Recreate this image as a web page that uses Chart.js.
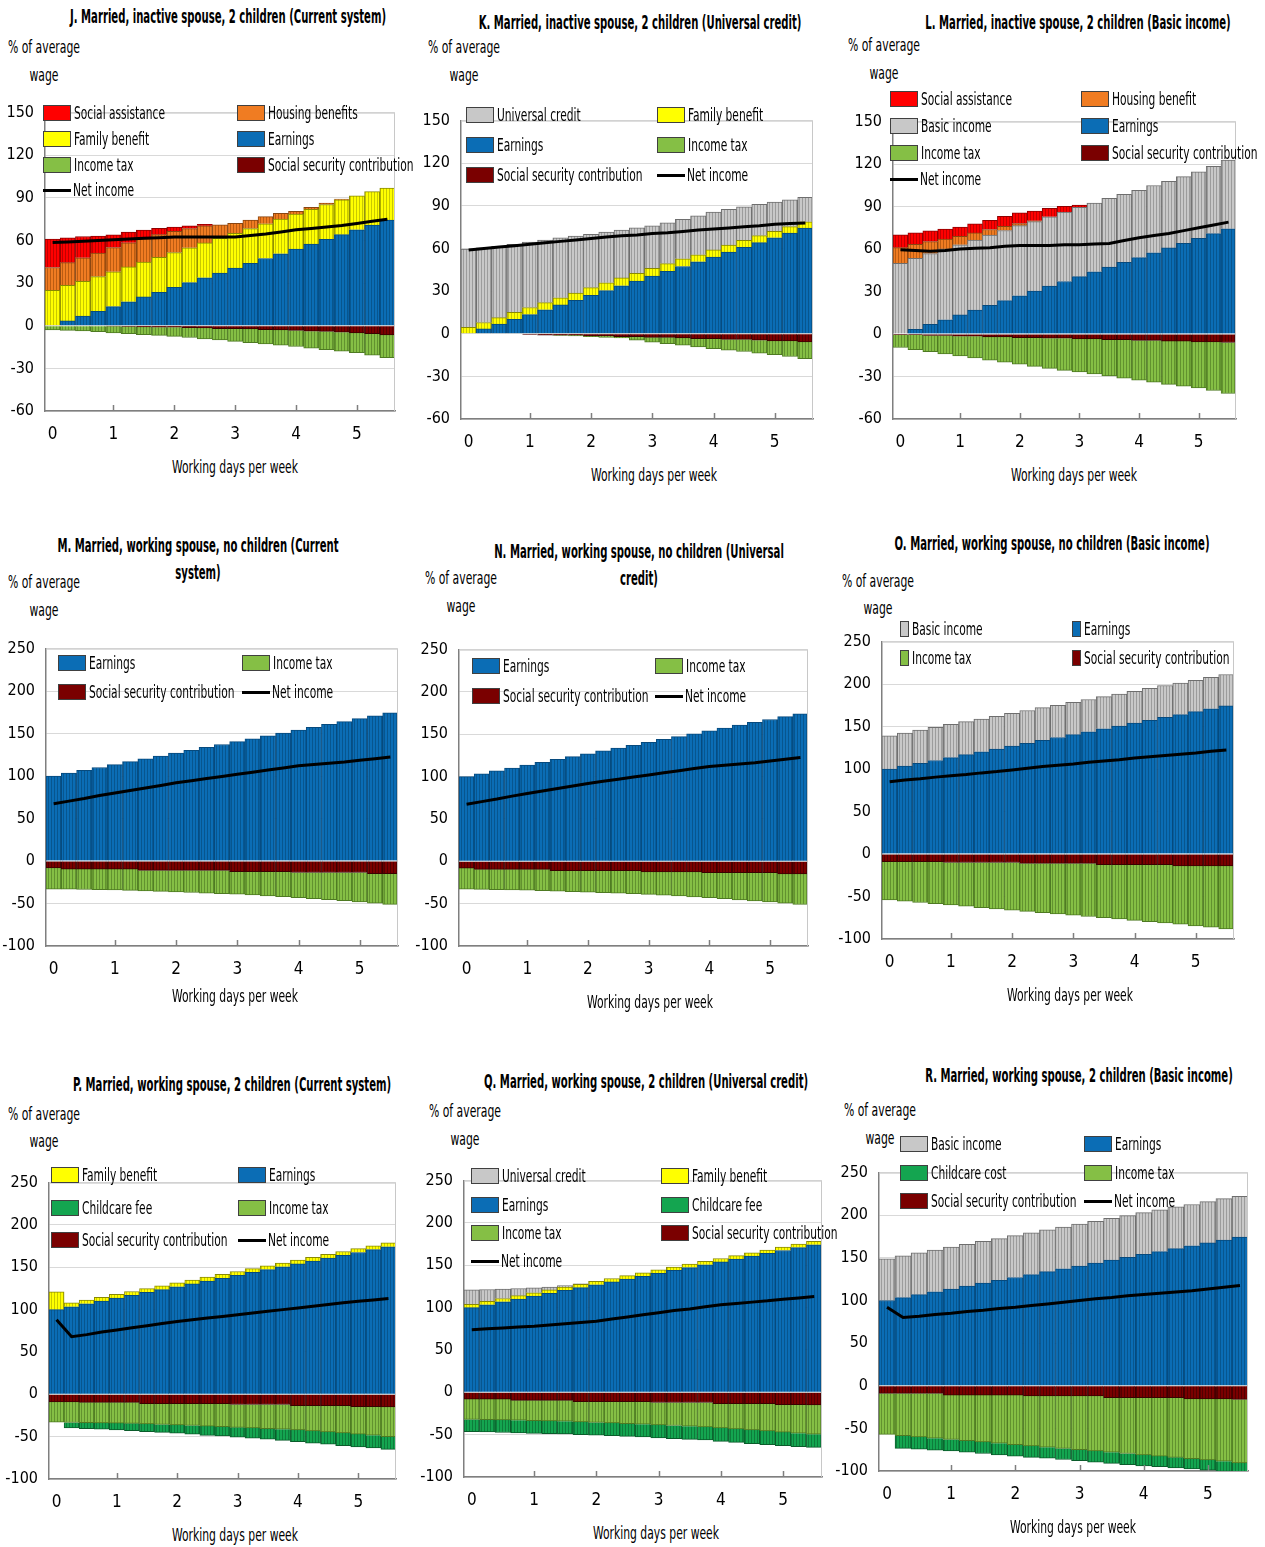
<!DOCTYPE html>
<html>
<head>
<meta charset="utf-8">
<script src="https://cdn.jsdelivr.net/npm/chart.js@4.4.0/dist/chart.umd.min.js"></script>
<style>
  body { margin: 0; background: #fff; }
  #page { position: relative; width: 1265px; height: 1547px; overflow: hidden; background: #fff;
          font-family: "Liberation Sans Narrow", "Arial Narrow", "DejaVu Sans Condensed", sans-serif; color: #000; }
  .t { position: absolute; white-space: nowrap; line-height: 1; }
  .ttl { font-size: 19px; font-weight: bold; }
  .leg { font-size: 18px; }
  .unit { font-size: 18px; }
  .xt { font-size: 18px; }
  canvas { position: absolute; }
  .sw { position: absolute; box-sizing: border-box; border: 1px solid #404040; }
  .ln { position: absolute; height: 3px; background: #000; }
</style>
</head>
<body>
<div id="page"></div>
<script>
// x positions: working days per week
var days = [0,0.25,0.5,0.75,1,1.25,1.5,1.75,2,2.25,2.5,2.75,3,3.25,3.5,3.75,4,4.25,4.5,4.75,5,5.25,5.5];
var xTicks = [0,1,2,3,4,5];
var ticksSmall = [-60,-30,0,30,60,90,120,150];
var ticksLarge = [-100,-50,0,50,100,150,200,250];

// earnings, % of average wage
var earnOne = [0,3.4,6.8,10.1,13.5,16.9,20.3,23.6,27,30.4,33.8,37.1,40.5,43.9,47.3,50.6,54,57.4,60.8,64.1,67.5,70.9,74.3];
var earnTwo = [100,103.4,106.8,110.1,113.5,116.9,120.3,123.6,127,130.4,133.8,137.1,140.5,143.9,147.3,150.6,154,157.4,160.8,164.1,167.5,170.9,174.3];

// J. inactive spouse, 2 children, current system
var jFamily  = [25,25,24.5,24.5,24.5,24.5,24.5,24.5,24.5,24.5,24.5,24.5,24.5,24.5,24.5,24.5,24.5,24.5,24.5,24.5,24,23.5,22.5];
var jHousing = [16,16,16.5,16.5,17,17,16.5,16,15,13.5,12,9.5,7,6,5,4,2,1.5,1,0.5,0,0,0];
var jSocial  = [20,17.5,15,12,9,7.5,6,4.5,3,2,1,0,0,0,0,0,0,0,0,0,0,0,0];
var jSsc     = [0,0,0,0,-0.3,-0.5,-0.8,-1,-1,-1.3,-1.5,-2,-2,-2.3,-2.8,-3,-3.3,-3.8,-4,-4.5,-5,-5.5,-6.5];
var jTax     = [-3,-3.3,-3.7,-4.1,-4.7,-5.1,-5.4,-5.8,-6.5,-7,-7.7,-8,-9,-9.6,-10,-10.7,-11.3,-11.9,-12.8,-13.4,-14,-15.2,-15.9];
var jNet     = [58.5,59,59.5,60,60.5,61,61.5,62,62.5,62.5,62.5,62.5,62.5,63.5,64.5,66,67.5,68.5,69.5,70.5,72,73.5,75];

// K. inactive spouse, 2 children, universal credit
var kFamily    = [4.5,4.5,4.5,5,5,5,5,5,5.5,5.5,5.5,5.5,5.5,5.5,5.5,5,5,5,5,5,4.5,4.5,4.5];
var kUniversal = [55,52.6,50.2,47.9,46,44.1,42.2,40.2,37.5,35.6,33.7,31.9,30,28.6,27.7,27.4,26.6,25.1,23.5,21.9,20.6,18.9,17.2];
var kSsc       = [0,0,0,0,-0.5,-1,-1,-1,-1.5,-1.5,-2,-2,-2.5,-2.5,-3,-3.5,-3.5,-4,-4,-4.5,-5,-5,-5.8];
var kTax       = [0,0,0,0,0,0,-0.2,-0.6,-0.5,-1,-1,-2.5,-3.5,-4.5,-5,-5.8,-7,-7.5,-8.5,-9.1,-9.7,-11,-11.8];
var kNet       = [59,60,61,62,63,64,65,66,67,68,69,69.5,70.5,71,72,73,73.7,74.5,75.3,76,77,77.5,78];

// L. inactive spouse, 2 children, basic income
var lBasic   = [50,50,50,50,49.5,49.5,49.5,49.5,49.5,49,49,49,49,48.5,48.5,48,47.5,47.5,47,47,47,47.5,48.5];
var lHousing = [11,10,8.5,7,6,5,4,3,1.5,0.5,0,0,0,0,0,0,0,0,0,0,0,0,0];
var lSocial  = [9,8,7.5,7,6.5,6.5,6.5,7,7.5,7,6,4,1.5,0,0,0,0,0,0,0,0,0,0];
var lSsc     = [-0.5,-0.5,-1,-1,-1.5,-1.5,-2,-2,-2.5,-2.5,-3,-3,-3.5,-3.5,-4,-4,-4.5,-4.5,-5,-5,-5.5,-5.5,-6];
var lTax     = [-9,-10.5,-11.5,-13,-14,-15.4,-16.4,-17.8,-18.8,-20.3,-21.3,-22.7,-23.2,-24.7,-25.6,-27.1,-28,-29.5,-30.5,-31.9,-32.6,-34.4,-36];
var lNet     = [59.5,59,58.5,59,60,60.5,61,62,62.5,62.5,62.5,63,63,63.5,64,66,68,69.5,71,73,75,77,79];

// M and N. working spouse, no children (current system / universal credit)
var mSsc = [-8,-9.5,-9.5,-9.5,-9.5,-9.5,-11,-11,-11,-11,-11,-11,-12.5,-12.5,-12.5,-12.5,-13.5,-13.5,-13.5,-13.5,-13.5,-15,-15];
var mTax = [-25,-23.7,-24,-24.2,-24.5,-25.1,-24.2,-24.8,-25.5,-26,-26.7,-27.3,-26.5,-27.5,-28.5,-29.5,-29.5,-30.7,-32,-33.2,-34.5,-34.5,-36];
var mNet = [67.5,70.5,73.5,77,80,83,86,89,92,94.5,97,99.5,102,104.5,107,109.5,112,113.5,115,116.5,118.5,120.5,122.5];

// O. working spouse, no children, basic income
var oBasic = [39,39,39,39,39,39,38.5,38.5,38.5,38.5,38.5,38,38,38,38,37.5,37.5,37.5,37.5,37,37,37,37];
var oSsc   = [-9,-9,-9,-9,-10,-10,-10,-10,-10,-11,-11,-11,-11,-11,-12.5,-12.5,-12.5,-12.5,-12.5,-14,-14,-14,-14];
var oTax   = [-45,-46.5,-48,-49.5,-50,-51.5,-53,-54.5,-56,-56.5,-58,-59.5,-61,-62.5,-62.5,-64,-65.5,-67,-68.5,-68.5,-70.5,-72,-74];
var oNet   = [85,87,88.5,90.5,92,93.5,95.5,97,99,101,103,104.5,106,108,109.5,111,113,114.5,116,117.5,119,121,122.5];

// P. working spouse, 2 children, current system
var pFamily = [21,4.5,4.5,4.5,4.5,4.5,4.5,4.5,4.5,4.5,4.5,4.5,4.5,4.5,4.5,4.5,4.5,4.5,4.5,4.5,4.5,4.5,4.5];
var pSsc    = [-9,-9,-9.5,-9.5,-9.5,-9.5,-11,-11,-11,-11,-11,-11,-12,-12,-12,-12,-13.5,-13.5,-13.5,-13.5,-14.5,-14.5,-15];
var pTax    = [-24,-24.3,-24,-24.2,-24.5,-24.8,-24,-24.5,-25,-25.7,-26.5,-27.2,-27,-27.8,-28.5,-29.3,-28.5,-29.7,-31,-32.2,-32.5,-33.7,-35];
var pChild  = [0,-6.5,-7,-7.5,-8,-8.5,-9,-9.5,-10,-10.5,-11,-11,-11.5,-12,-12.5,-13,-14,-14.5,-14.5,-15,-15,-15,-15];
var pNet    = [88,68,70.5,73.5,76,78.5,81,83.5,86,88,90,92,94,96,98,100,102,104,106,108,110,111.5,113];

// Q. working spouse, 2 children, universal credit
var qFamily    = [4,4,4,4,4,4,4,4,4,4,4,4,4,4,4,4,4,4,4,4,4,4,4];
var qUniversal = [17,14,11,8.5,6,3.5,1.7,0.4,0,0,0,0,0,0,0,0,0,0,0,0,0,0,0];
var qSsc       = [-8,-8,-8,-9.5,-9.5,-9.5,-9.5,-11,-11,-11,-11,-11,-12,-12,-12,-12,-13.5,-13.5,-13.5,-13.5,-14.5,-14.5,-15];
var qTax       = [-24,-24.3,-24.5,-23.5,-24,-24.3,-24.7,-24,-24.5,-25.2,-26,-26.7,-26.5,-27.2,-28,-28.8,-28.5,-29.7,-31,-32.2,-32.5,-33.7,-34.5];
var qChild     = [-14.5,-14.5,-15,-15,-15,-15,-15,-15,-15,-15,-15,-15,-15.5,-15.5,-15.5,-15.5,-16,-16,-16,-16,-16,-16,-15.5];
var qNet       = [74,75,76,77,78,79.5,81,82.5,84,86.5,89,91.5,94,96.5,98.5,101,103.5,105,106.5,108,110,111.5,113];

// R. working spouse, 2 children, basic income
var rBasic = [49,49,49,49,49,49,49,49,49,49,49,49,49,49,49,49,49,49,49,48.5,48.5,48.5,48];
var rSsc   = [-9,-9,-9,-9,-11,-11,-11,-11,-11,-12,-12,-12,-12,-12,-14,-14,-14,-14,-14,-15.5,-15.5,-15.5,-16];
var rTax   = [-48,-49.5,-51,-52.5,-52,-53.5,-55,-56.5,-58,-58.5,-60,-61.5,-63,-64.5,-64,-65.5,-67,-68.5,-70,-70,-71.5,-73,-74.5];
var rChild = [0,-15,-14.5,-14,-13.5,-13.5,-13.5,-13.5,-13.5,-13.5,-13,-13,-13,-13,-13,-13,-13,-12.5,-12.5,-12,-12,-12,-12];
var rNet   = [92,80,81.5,83.5,85,87,88.5,90.5,92,94,96,98,100,102,103.5,105.5,107,108.5,110,111.5,113.5,115.5,117.5];

// fill / stripe / edge colours
var COL = {
  earn:  ['#0B6DB5', '#07568f', '#064a7e'],
  fam:   ['#FFFF00', '#c9c900', '#8a8a00'],
  hous:  ['#F07C22', '#bb5c12', '#8a4510'],
  soc:   ['#FF0000', '#c20000', '#900000'],
  grey:  ['#C8C8C8', '#9c9c9c', '#6e6e6e'],
  tax:   ['#85BF45', '#62922f', '#4e7a22'],
  ssc:   ['#7A0000', '#520000', '#3a0000'],
  child: ['#14A550', '#0d7c3b', '#0a5c2b']
};

var SSC = 'Social security contribution';

var panels = [
  { plot: [45,113,395,411], yt: ticksSmall, title: ['J. Married, inactive spouse, 2 children (Current system)'], tx: 228, ty: [16],
    unit: [44,47,75], xt: [235,467], rows: [113,139,165,190], cols: [43,237],
    legend: [[['Social assistance','soc'],['Family benefit','fam'],['Income tax','tax'],['Net income','net']],
             [['Housing benefits','hous'],['Earnings','earn'],[SSC,'ssc']]],
    bars: [['Earnings',earnOne,'earn'],['Family benefit',jFamily,'fam'],['Housing benefits',jHousing,'hous'],['Social assistance',jSocial,'soc'],
           [SSC,jSsc,'ssc'],['Income tax',jTax,'tax']], net: jNet },
  { plot: [461,121,813,419], yt: ticksSmall, title: ['K. Married, inactive spouse, 2 children (Universal credit)'], tx: 640, ty: [22],
    unit: [464,47,75], xt: [654,475], rows: [115,145,175], cols: [466,657],
    legend: [[['Universal credit','grey'],['Earnings','earn'],[SSC,'ssc']],
             [['Family benefit','fam'],['Income tax','tax'],['Net income','net']]],
    bars: [['Earnings',earnOne,'earn'],['Family benefit',kFamily,'fam'],['Universal credit',kUniversal,'grey'],
           [SSC,kSsc,'ssc'],['Income tax',kTax,'tax']], net: kNet },
  { plot: [893,122,1236,419], yt: ticksSmall, title: ['L. Married, inactive spouse, 2 children (Basic income)'], tx: 1078, ty: [22],
    unit: [884,45,73], xt: [1074,475], rows: [99,126,153,179], cols: [890,1081],
    legend: [[['Social assistance','soc'],['Basic income','grey'],['Income tax','tax'],['Net income','net']],
             [['Housing benefit','hous'],['Earnings','earn'],[SSC,'ssc']]],
    bars: [['Earnings',earnOne,'earn'],['Basic income',lBasic,'grey'],['Housing benefit',lHousing,'hous'],['Social assistance',lSocial,'soc'],
           [SSC,lSsc,'ssc'],['Income tax',lTax,'tax']], net: lNet },
  { plot: [46,649,398,946], yt: ticksLarge, title: ['M. Married, working spouse, no children (Current','system)'], tx: 198, ty: [545,572],
    unit: [44,582,610], xt: [235,996], rows: [663,692], cols: [58,242],
    legend: [[['Earnings','earn'],[SSC,'ssc']], [['Income tax','tax'],['Net income','net']]],
    bars: [['Earnings',earnTwo,'earn'],[SSC,mSsc,'ssc'],['Income tax',mTax,'tax']], net: mNet },
  { plot: [459,650,808,946], yt: ticksLarge, title: ['N. Married, working spouse, no children (Universal','credit)'], tx: 639, ty: [551,578],
    unit: [461,578,606], xt: [650,1002], rows: [666,696], cols: [472,655],
    legend: [[['Earnings','earn'],[SSC,'ssc']], [['Income tax','tax'],['Net income','net']]],
    bars: [['Earnings',earnTwo,'earn'],[SSC,mSsc,'ssc'],['Income tax',mTax,'tax']], net: mNet },
  { plot: [882,642,1234,939], yt: ticksLarge, title: ['O. Married, working spouse, no children (Basic income)'], tx: 1052, ty: [543],
    unit: [878,581,608], xt: [1070,995], rows: [629,658], cols: [900,1072], small: true,
    legend: [[['Basic income','grey'],['Income tax','tax']], [['Earnings','earn'],[SSC,'ssc']]],
    bars: [['Earnings',earnTwo,'earn'],['Basic income',oBasic,'grey'],[SSC,oSsc,'ssc'],['Income tax',oTax,'tax']], net: oNet },
  { plot: [49,1183,396,1479], yt: ticksLarge, title: ['P. Married, working spouse, 2 children (Current system)'], tx: 232, ty: [1084],
    unit: [44,1114,1141], xt: [235,1535], rows: [1175,1208,1240], cols: [51,238],
    legend: [[['Family benefit','fam'],['Childcare fee','child'],[SSC,'ssc']],
             [['Earnings','earn'],['Income tax','tax'],['Net income','net']]],
    bars: [['Earnings',earnTwo,'earn'],['Family benefit',pFamily,'fam'],
           [SSC,pSsc,'ssc'],['Income tax',pTax,'tax'],['Childcare fee',pChild,'child']], net: pNet },
  { plot: [464,1181,822,1477], yt: ticksLarge, title: ['Q. Married, working spouse, 2 children (Universal credit)'], tx: 646, ty: [1081],
    unit: [465,1111,1139], xt: [656,1533], rows: [1176,1205,1233,1261], cols: [471,661],
    legend: [[['Universal credit','grey'],['Earnings','earn'],['Income tax','tax'],['Net income','net']],
             [['Family benefit','fam'],['Childcare fee','child'],[SSC,'ssc']]],
    bars: [['Earnings',earnTwo,'earn'],['Family benefit',qFamily,'fam'],['Universal credit',qUniversal,'grey'],
           [SSC,qSsc,'ssc'],['Income tax',qTax,'tax'],['Childcare fee',qChild,'child']], net: qNet },
  { plot: [879,1173,1248,1471], yt: ticksLarge, title: ['R. Married, working spouse, 2 children (Basic income)'], tx: 1079, ty: [1075],
    unit: [880,1110,1138], xt: [1073,1527], rows: [1144,1173,1201], cols: [900,1084],
    legend: [[['Basic income','grey'],['Childcare cost','child'],[SSC,'ssc']],
             [['Earnings','earn'],['Income tax','tax'],['Net income','net']]],
    bars: [['Earnings',earnTwo,'earn'],['Basic income',rBasic,'grey'],
           [SSC,rSsc,'ssc'],['Income tax',rTax,'tax'],['Childcare cost',rChild,'child']], net: rNet }
];

var page = document.getElementById('page');
var FONT = '"Liberation Sans Narrow", "Arial Narrow", "DejaVu Sans Condensed", sans-serif';

function measure(str, cls) {
  var el = document.createElement('span');
  el.className = 't ' + cls;
  el.textContent = str;
  page.appendChild(el);
  var w = el.getBoundingClientRect().width;
  page.removeChild(el);
  return w;
}
// squeeze text to the narrow face of the original
var SCALE = {
  ttl: 316 / measure(panels[0].title[0], 'ttl'),
  leg: 91 / measure('Social assistance', 'leg'),
  unit: 72 / measure('% of average', 'unit'),
  xt: 126 / measure('Working days per week', 'xt')
};

function addText(str, x, y, cls, center) {
  var el = document.createElement('div');
  el.className = 't ' + cls;
  el.textContent = str;
  el.style.left = x + 'px';
  el.style.top = y + 'px';
  if (center) {
    el.style.transformOrigin = '50% 50%';
    el.style.transform = 'translate(-50%,-50%) scaleX(' + SCALE[cls] + ')';
  } else {
    el.style.transformOrigin = '0 50%';
    el.style.transform = 'translateY(-50%) scaleX(' + SCALE[cls] + ')';
  }
  page.appendChild(el);
}

// thin vertical stripes like the hairline bar outlines of the original
var patterns = {};
function stripe(key) {
  if (patterns[key]) return patterns[key];
  var pc = document.createElement('canvas');
  pc.width = 3; pc.height = 4;
  var c = pc.getContext('2d');
  c.fillStyle = COL[key][0];
  c.fillRect(0, 0, 3, 4);
  c.fillStyle = COL[key][1];
  c.fillRect(2, 0, 1, 4);
  patterns[key] = c.createPattern(pc, 'repeat');
  return patterns[key];
}

var framePlugin = {
  id: 'frame',
  afterDatasetsDraw: function (chart) {
    var ctx = chart.ctx, a = chart.chartArea, x = chart.scales.x;
    ctx.save();
    ctx.strokeStyle = '#c8c8c8';
    ctx.lineWidth = 1;
    ctx.beginPath();
    ctx.moveTo(a.left, a.top + 0.5);
    ctx.lineTo(a.right - 0.5, a.top + 0.5);
    ctx.lineTo(a.right - 0.5, a.bottom);
    ctx.stroke();
    ctx.strokeStyle = '#7f7f7f';
    ctx.lineWidth = 1.5;
    xTicks.forEach(function (d) {
      if (d === 0) return;
      var px = Math.round(x.getPixelForValue(d)) + 0.5;
      ctx.beginPath();
      ctx.moveTo(px, a.bottom);
      ctx.lineTo(px, a.bottom - 6);
      ctx.stroke();
    });
    ctx.restore();
  }
};

function drawPanel(p) {
  var l = p.plot[0], t = p.plot[1], r = p.plot[2], b = p.plot[3];
  var W = r - l + 57, H = b - t + 52;
  var cv = document.createElement('canvas');
  cv.width = W; cv.height = H;
  cv.style.left = (l - 45) + 'px';
  cv.style.top = (t - 12) + 'px';
  cv.style.width = W + 'px';
  cv.style.height = H + 'px';
  page.appendChild(cv);

  var datasets = p.bars.map(function (s) {
    return {
      type: 'bar', label: s[0],
      data: days.map(function (d, i) { return { x: d, y: s[1][i] === 0 ? null : s[1][i] }; }),
      backgroundColor: stripe(s[2]), borderColor: COL[s[2]][2], borderWidth: 1,
      barPercentage: 1, categoryPercentage: 1, stack: 's', order: 2
    };
  });
  datasets.push({
    type: 'line', label: 'Net income',
    data: days.map(function (d, i) { return { x: d, y: p.net[i] }; }),
    borderColor: '#000', borderWidth: 3, pointRadius: 0, tension: 0, stack: 'net', order: 1
  });

  var chart = new Chart(cv, {
    data: { datasets: datasets },
    options: {
      responsive: false, maintainAspectRatio: false, animation: false,
      layout: { autoPadding: false, padding: { top: 12, right: 12, left: 0, bottom: 0 } },
      plugins: { legend: { display: false }, tooltip: { enabled: false } },
      scales: {
        x: {
          type: 'linear', min: -0.125, max: 5.625, offset: false,
          afterBuildTicks: function (s) { s.ticks = xTicks.map(function (v) { return { value: v }; }); },
          afterFit: function (s) { s.height = 40; },
          grid: { display: false, drawTicks: false, offset: false },
          border: { color: '#7f7f7f', width: 1.5 },
          ticks: { color: '#000', padding: 13, font: { family: FONT, size: 17 } }
        },
        y: {
          stacked: true, min: p.yt[0], max: p.yt[p.yt.length - 1],
          afterBuildTicks: function (s) { s.ticks = p.yt.map(function (v) { return { value: v }; }); },
          afterFit: function (s) { s.width = 45; },
          grid: { color: '#d9d9d9', drawTicks: false },
          border: { color: '#7f7f7f', width: 1.5 },
          ticks: { color: '#000', padding: 11, font: { family: FONT, size: 16 } }
        }
      }
    },
    plugins: [framePlugin]
  });

  // Chart.js keeps room for half a tick label above the plot:
  // grow the canvas and shift it so the plot lands on the wanted rectangle
  var curH = H, a = chart.chartArea;
  for (var k = 0; k < 4; k++) {
    var extra = (b - t) - (a.bottom - a.top);
    if (Math.abs(extra) < 0.5) break;
    curH = Math.round(curH + extra);
    chart.resize(W, curH);
    a = chart.chartArea;
  }
  cv.style.top = (t - a.top) + 'px';
  cv.style.left = (l - a.left) + 'px';

  // texts
  p.title.forEach(function (s, i) { addText(s, p.tx, p.ty[i], 'ttl', true); });
  addText('% of average', p.unit[0], p.unit[1], 'unit', true);
  addText('wage', p.unit[0], p.unit[2], 'unit', true);
  addText('Working days per week', p.xt[0], p.xt[1], 'xt', true);

  // legend
  p.legend.forEach(function (col, ci) {
    col.forEach(function (item, ri) {
      var x = p.cols[ci], y = p.rows[ri];
      if (item[1] === 'net') {
        var ln = document.createElement('div');
        ln.className = 'ln';
        ln.style.left = x + 'px'; ln.style.top = (y - 1.5) + 'px'; ln.style.width = '28px';
        page.appendChild(ln);
        addText(item[0], x + 30, y, 'leg', false);
      } else {
        var sw = document.createElement('div');
        sw.className = 'sw';
        var w = p.small ? 9 : 28;
        sw.style.left = x + 'px'; sw.style.top = (y - 8) + 'px';
        sw.style.width = w + 'px'; sw.style.height = '16px';
        sw.style.background = COL[item[1]][0];
        page.appendChild(sw);
        addText(item[0], x + w + 3, y, 'leg', false);
      }
    });
  });
}

panels.forEach(drawPanel);
</script>
</body>
</html>
